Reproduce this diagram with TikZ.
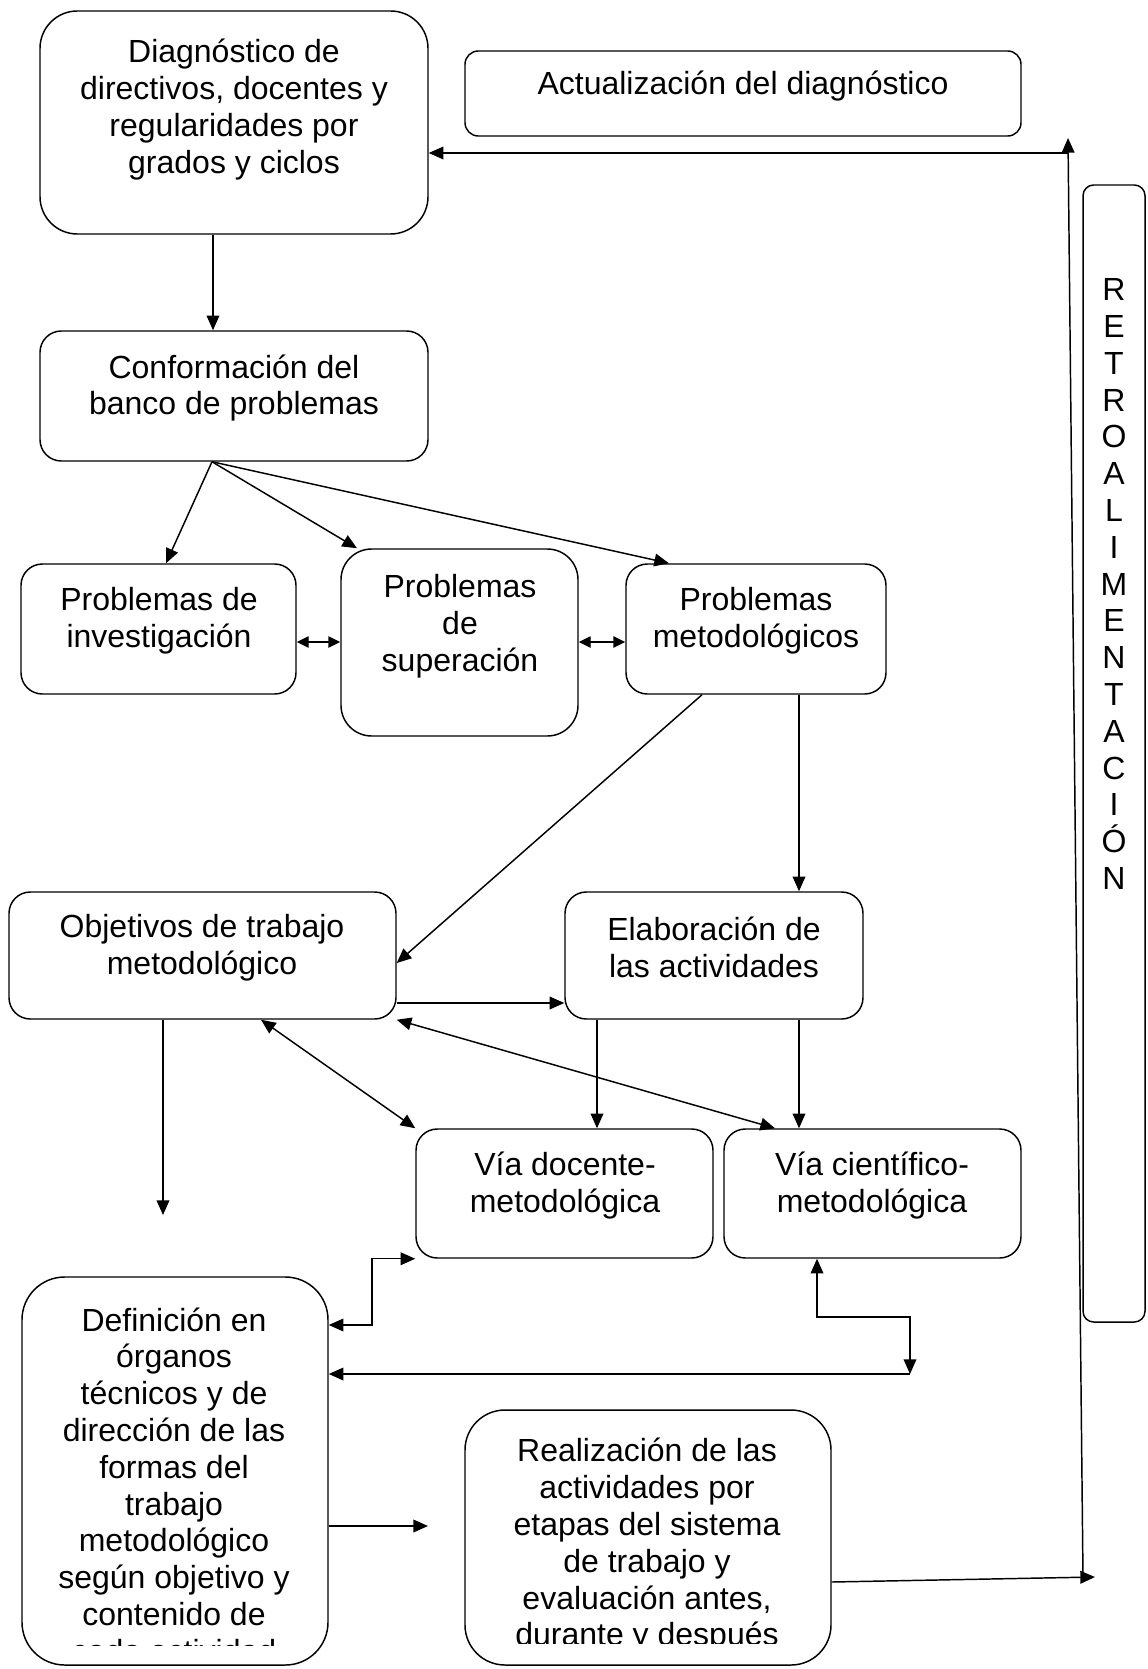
\documentclass[tikz,border=0pt]{standalone}
\usepackage{fontspec}
\setmainfont{Liberation Sans}
\usetikzlibrary{arrows.meta,fit}
\begin{document}
\begin{tikzpicture}[x=0.75pt,y=-0.75pt,
  box/.style={draw, line width=1.1pt, inner sep=0pt, rounded corners=#1},
  box/.default=16pt,
  txt/.style={font=\fontsize{24}{27.6}\selectfont, align=center, inner sep=0pt},
  conn/.style={line width=1.1pt, -{Triangle[length=11pt,width=9.5pt]}},
  dconn/.style={line width=1.1pt, {Triangle[length=11pt,width=9.5pt]}-{Triangle[length=11pt,width=9.5pt]}},
  sdconn/.style={line width=1.1pt, {Triangle[length=9pt,width=8.5pt]}-{Triangle[length=9pt,width=8.5pt]}}
]
\useasboundingbox (0,0) rectangle (1148,1669);

% boxes
\node[box=28pt, fit={(40,11) (428,234)}] (diag) {};
\node[box=10pt, fit={(465,51) (1021,136)}] (act) {};
\node[box, fit={(40,331) (428,461)}] (conf) {};
\node[box, fit={(21,564) (296,694)}] (inv) {};
\node[box=23pt, fit={(341,549) (578,736)}] (sup) {};
\node[box, fit={(626,564) (886,694)}] (met) {};
\node[box, fit={(9,892) (396,1019)}] (obj) {};
\node[box, fit={(565,892) (863,1019)}] (elab) {};
\node[box, fit={(416,1129) (713,1258)}] (doc) {};
\node[box, fit={(724,1129) (1021,1258)}] (cient) {};
\node[box=32pt, fit={(22,1277) (328,1665)}] (def) {};
\node[box=30pt, fit={(465,1410) (831,1665)}] (real) {};
\node[box=8pt, fit={(1083,185) (1145,1322)}] (retro) {};

% texts
\node[txt] (diagT) at (234,109.5) {Diagnóstico de\\directivos, docentes y\\regularidades por\\grados y ciclos};
\node[txt] (actT) at (743,86.5) {Actualización del diagnóstico};
\node[txt] (confT) at (234,388) {Conformación del\\banco de problemas};
\node[txt] (invT) at (159,620.5) {Problemas de\\investigación};
\node[txt] (supT) at (460,626.5) {Problemas\\de\\superación};
\node[txt] (metT) at (756,620.5) {Problemas\\metodológicos};
\node[txt] (objT) at (202,947.5) {Objetivos de trabajo\\metodológico};
\node[txt] (elabT) at (714,947.5) {Elaboración de\\las actividades};
\node[txt] (docT) at (565,1185.5) {Vía docente-\\metodológica};
\node[txt] (cientT) at (872,1185.5) {Vía científico-\\metodológica};
\node[txt] (retroT) at (1114,584) {R\\E\\T\\R\\O\\A\\L\\I\\M\\E\\N\\T\\A\\C\\I\\Ó\\N};
\begin{scope}
  \clip (0,0) rectangle (1148,1645);
  \node[txt] (defT) at (174,1485) {Definición en\\órganos\\técnicos y de\\dirección de las\\formas del\\trabajo\\metodológico\\según objetivo y\\contenido de\\cada actividad};
\end{scope}
\begin{scope}
  \clip (0,0) rectangle (1148,1643);
  \node[txt] (realT) at (647,1545.5) {Realización de las\\actividades por\\etapas del sistema\\de trabajo y\\evaluación antes,\\durante y después};
\end{scope}

% helper coordinates
\coordinate (x163) at (163,0);
\coordinate (x166) at (166,0);
\coordinate (x212) at (212,0);
\coordinate (x213) at (213,0);
\coordinate (x261) at (261,0);
\coordinate (x357) at (357,0);
\coordinate (x372) at (372,0);
\coordinate (x597) at (597,0);
\coordinate (x669) at (669,0);
\coordinate (x702) at (702,0);
\coordinate (x775) at (775,0);
\coordinate (x799) at (799,0);
\coordinate (x817) at (817,0);
\coordinate (x910) at (910,0);
\coordinate (y153) at (0,153);
\coordinate (y642) at (0,642);
\coordinate (y963) at (0,963);
\coordinate (y1003) at (0,1003);
\coordinate (y1317) at (0,1317);
\coordinate (y1325) at (0,1325);
\coordinate (y1526) at (0,1526);
\coordinate (y1582) at (0,1582);
\coordinate (objEnd) at (163,1215);
\coordinate (defEnd) at (428,1526);
\coordinate (realEnd) at (1095,1577);
\coordinate (vb) at (1083,1577);
\coordinate (vt) at (1068,138);
\coordinate (vh) at (1068,153);
\coordinate (jn) at (910,1374);

% connectors
\draw[conn] (diag.south -| x213) -- (conf.north -| x213);
\draw[conn] (conf.south -| x212) -- (inv.north -| x166);
\draw[conn] (conf.south -| x212) -- (sup.north -| x357);
\draw[conn] (conf.south -| x212) -- (met.north -| x669);
\draw[sdconn] (inv.east |- y642) -- (sup.west |- y642);
\draw[sdconn] (sup.east |- y642) -- (met.west |- y642);
\draw[conn] (met.south -| x702) -- (obj.east |- y963);
\draw[conn] (met.south -| x799) -- (elab.north -| x799);
\draw[conn] (obj.east |- y1003) -- (elab.west |- y1003);
\draw[dconn] (obj.south -| x261) -- (doc.north west);
\draw[dconn] (obj.south east) -- (cient.north -| x775);
\draw[conn] (elab.south -| x597) -- (doc.north -| x597);
\draw[conn] (elab.south -| x799) -- (cient.north -| x799);
\draw[conn] (obj.south -| x163) -- (objEnd);
\draw[dconn] (doc.south west) -| (x372 |- y1325) -- (def.east |- y1325);
\draw[dconn] (cient.south -| x817) -- (x817 |- y1317) -| (jn);
\draw[conn] (jn) -- (def.east |- jn);
\draw[conn] (def.east |- y1526) -- (defEnd);
\draw[conn] (real.east |- y1582) -- (realEnd);
\draw[conn] (vb) -- (vt);
\draw[conn] (vh) -- (diag.east |- y153);
\end{tikzpicture}
\end{document}
